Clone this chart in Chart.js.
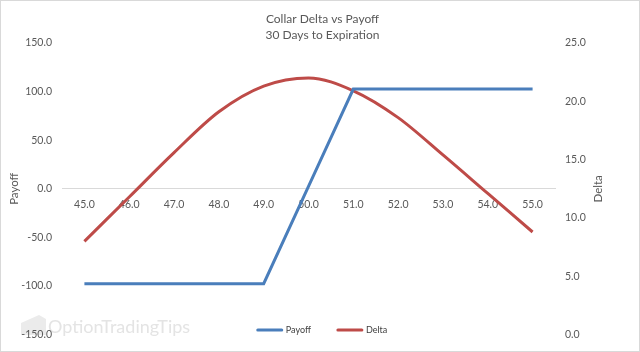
<!DOCTYPE html>
<html>
<head>
<meta charset="utf-8">
<script src="https://cdn.jsdelivr.net/npm/chart.js@4.4.1/dist/chart.umd.min.js"></script>
<style>
  html, body { margin: 0; padding: 0; background: #fff; }
  #wrap { width: 640px; height: 352px; box-sizing: border-box; border: 1px solid #d9d9d9; }
  canvas { display: block; }
</style>
</head>
<body>
<div id="wrap"><canvas id="collarChart" width="638" height="350"></canvas></div>
<script>
// values
const strikes = ['45.0', '46.0', '47.0', '48.0', '49.0', '50.0', '51.0', '52.0', '53.0', '54.0', '55.0'];
const payoff = [-97.5, -97.5, -97.5, -97.5, -97.5, 2.5, 102.5, 102.5, 102.5, 102.5, 102.5];
const delta = [8.0, 11.8, 15.6, 19.1, 21.3, 22.0, 20.9, 18.6, 15.4, 12.1, 8.8];
const payoffTicks = [-150, -100, -50, 0, 50, 100, 150];
const deltaTicks = [0, 5, 10, 15, 20, 25];

const textColor = '#595959';
Chart.defaults.font.family = 'Lato';
Chart.defaults.color = textColor;

// legend, right axis title and watermark drawn by hand so they sit where Excel put them
const extras = {
  id: 'extras',
  beforeDraw(chart) {
    const ctx = chart.ctx;
    ctx.save();
    ctx.fillStyle = '#ebebeb';
    ctx.beginPath();
    ctx.moveTo(20, 322); ctx.lineTo(38, 314); ctx.lineTo(45, 318); ctx.lineTo(45, 334); ctx.lineTo(20, 334);
    ctx.closePath();
    ctx.fill();
    ctx.font = '18px Lato';
    ctx.fillStyle = '#e4e4e4';
    ctx.textBaseline = 'middle';
    ctx.fillText('OptionTradingTips', 47, 326);
    ctx.restore();
  },
  afterDraw(chart) {
    const ctx = chart.ctx;
    const area = chart.chartArea;
    ctx.save();
    // right axis title, reading bottom to top
    ctx.font = '11.5px Lato';
    ctx.fillStyle = textColor;
    ctx.textAlign = 'center';
    ctx.textBaseline = 'middle';
    ctx.translate(597, (area.top + area.bottom) / 2);
    ctx.rotate(-Math.PI / 2);
    ctx.fillText('Delta', 0, 0);
    ctx.restore();

    // legend
    ctx.save();
    ctx.font = '9px Lato';
    ctx.textBaseline = 'middle';
    const lineLen = 26, gap = 3, itemGap = 26;
    const items = chart.data.datasets.map(ds => ({ ds, w: lineLen + gap + ctx.measureText(ds.label).width }));
    const total = items.reduce((s, it) => s + it.w, 0) + itemGap * (items.length - 1);
    let x = 321 - total / 2;
    const y = 329;
    items.forEach(it => {
      ctx.strokeStyle = it.ds.borderColor;
      ctx.lineWidth = 3;
      ctx.lineCap = 'round';
      ctx.beginPath();
      ctx.moveTo(x + 1, y);
      ctx.lineTo(x + lineLen - 1, y);
      ctx.stroke();
      ctx.fillStyle = '#404040';
      ctx.fillText(it.ds.label, x + lineLen + gap, y);
      x += it.w + itemGap;
    });
    ctx.restore();
  }
};

new Chart(document.getElementById('collarChart'), {
  type: 'line',
  data: {
    labels: strikes,
    datasets: [{
      label: 'Payoff',
      data: payoff,
      yAxisID: 'y',
      borderColor: '#4a7ebb',
      borderWidth: 3,
      pointRadius: 0,
      tension: 0
    }, {
      label: 'Delta',
      data: delta,
      yAxisID: 'y1',
      borderColor: '#be4b48',
      borderWidth: 3,
      pointRadius: 0,
      cubicInterpolationMode: 'monotone'
    }]
  },
  options: {
    responsive: false,
    animation: false,
    layout: { padding: { left: 5, right: 0, top: 0, bottom: 15 } },
    plugins: {
      legend: { display: false },
      tooltip: { enabled: false },
      title: {
        display: true,
        text: ['Collar Delta vs Payoff', '30 Days to Expiration'],
        color: textColor,
        font: { size: 12, weight: 'normal', lineHeight: 1.33 },
        padding: { top: 10, bottom: 0 }
      }
    },
    scales: {
      x: {
        type: 'category',
        position: { y: 0 },
        offset: true,
        grid: { display: false, drawTicks: false },
        border: { display: true, color: '#d9d9d9', width: 1 },
        ticks: { padding: 9, font: { size: 10.5 }, color: textColor, maxRotation: 0 }
      },
      y: {
        position: 'left',
        min: -150,
        max: 150,
        afterBuildTicks: s => { s.ticks = payoffTicks.map(v => ({ value: v })); },
        afterFit: s => { s.width = 56; },
        grid: { display: false, drawTicks: false },
        border: { display: false },
        ticks: { padding: 10, font: { size: 10.5 }, color: textColor, callback: v => v.toFixed(1) },
        title: { display: true, text: 'Payoff', color: textColor, font: { size: 11.5 }, padding: { top: 1, bottom: 0 } }
      },
      y1: {
        position: 'right',
        min: 0,
        max: 25,
        afterBuildTicks: s => { s.ticks = deltaTicks.map(v => ({ value: v })); },
        afterFit: s => { s.width = 84; },
        grid: { display: false, drawTicks: false },
        border: { display: false },
        ticks: { padding: 10, font: { size: 10.5 }, color: textColor, callback: v => v.toFixed(1) }
      }
    }
  },
  plugins: [extras]
});
</script>
</body>
</html>
